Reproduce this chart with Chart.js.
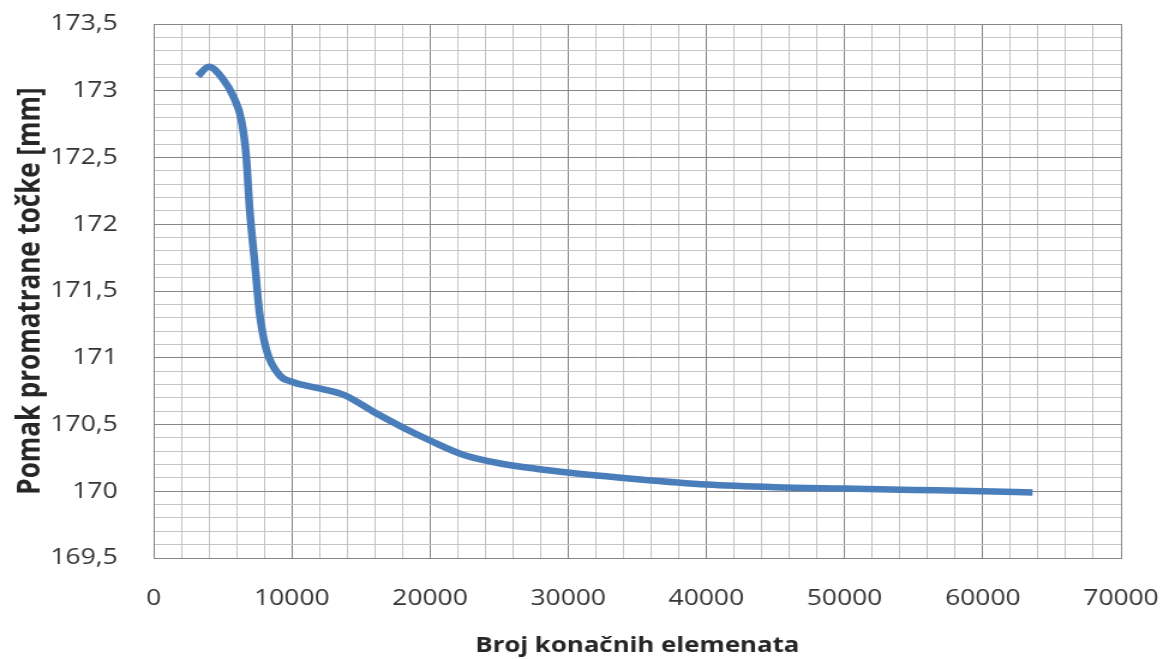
<!DOCTYPE html>
<html>
<head>
<meta charset="utf-8">
<script src="https://cdn.jsdelivr.net/npm/chart.js@4"></script>
<style>
  html, body { margin: 0; padding: 0; background: #fff; overflow: hidden; }
  /* the original picture is a bit wider than tall, so the chart is drawn narrow and stretched */
  #wrap { width: 974px; height: 659px; transform: scaleX(1.2002); transform-origin: 0 0; }
</style>
</head>
<body>
<div id="wrap"><canvas id="chart"></canvas></div>
<script>
// broj elemenata / pomak tocke (mm)
const elementi = [3200, 4000, 5000, 5800, 6350, 6700, 6950, 7300, 7670, 8160, 9100, 10000, 12000, 13800, 16000, 18000, 20000, 22500, 25000, 30000, 35000, 40000, 45000, 50000, 55000, 60000, 63600];
const pomak = [173.11, 173.18, 173.09, 172.95, 172.78, 172.51, 172.11, 171.73, 171.33, 171.06, 170.87, 170.82, 170.77, 170.72, 170.59, 170.48, 170.38, 170.27, 170.21, 170.14, 170.09, 170.05, 170.03, 170.02, 170.01, 170.0, 169.99];

const xOznake = [0, 10000, 20000, 30000, 40000, 50000, 60000, 70000];
const yOznake = [169.5, 170, 170.5, 171, 171.5, 172, 172.5, 173, 173.5];

const tocke = elementi.map((x, i) => ({ x: x, y: pomak[i] }));

function jeOznakaX(v) {
  return xOznake.some(t => Math.abs(t - v) < 1);
}

function jeOznakaY(v) {
  return yOznake.some(t => Math.abs(t - v) < 1e-6);
}

const ctx = document.getElementById("chart").getContext("2d");

new Chart(ctx, {
  type: "line",
  data: {
    datasets: [
      {
        data: tocke,
        borderColor: "#4a7ebb",
        borderWidth: 6.5,
        pointRadius: 0,
        fill: false,
        cubicInterpolationMode: "monotone"
      }
    ]
  },
  options: {
    responsive: true,
    maintainAspectRatio: false,
    animation: false,
    layout: { padding: { top: 24, right: 40, left: 0, bottom: 0 } },
    plugins: {
      legend: { display: false },
      tooltip: { enabled: false }
    },
    scales: {
      x: {
        type: "linear",
        min: 0,
        max: 70000,
        afterFit: scale => { scale.height = 101; },
        ticks: {
          stepSize: 2000,
          autoSkip: false,
          maxRotation: 0,
          padding: 0,
          color: "#333",
          font: { family: "Open Sans", size: 22 },
          callback: v => jeOznakaX(v) ? String(v) : ""
        },
        // invisible tick marks keep the labels away from the axis
        grid: {
          drawTicks: true,
          tickLength: 28,
          tickColor: "rgba(0,0,0,0)",
          color: c => jeOznakaX(c.tick.value) ? "#868686" : "#c4c4c4",
          lineWidth: 1
        },
        border: { display: true, color: "#868686" },
        title: {
          display: true,
          text: "Broj konačnih elemenata",
          color: "#262626",
          font: { family: "Open Sans", size: 21.5, weight: "bold" },
          padding: { top: 0, bottom: 0 }
        }
      },
      y: {
        min: 169.5,
        max: 173.5,
        afterFit: scale => { scale.width = 128; },
        ticks: {
          stepSize: 0.1,
          autoSkip: false,
          padding: 0,
          color: "#333",
          font: { family: "Open Sans", size: 22 },
          callback: v => jeOznakaY(v) ? String(Math.round(v * 10) / 10).replace(".", ",") : ""
        },
        grid: {
          drawTicks: true,
          tickLength: 30,
          tickColor: "rgba(0,0,0,0)",
          color: c => jeOznakaY(c.tick.value) ? "#868686" : "#c4c4c4",
          lineWidth: 1
        },
        border: { display: true, color: "#868686" },
        title: {
          display: true,
          text: "Pomak promatrane točke [mm]",
          color: "#262626",
          font: { family: "Open Sans", size: 26, weight: "bold" },
          padding: { top: 10, bottom: 0 }
        }
      }
    }
  }
});
</script>
</body>
</html>
